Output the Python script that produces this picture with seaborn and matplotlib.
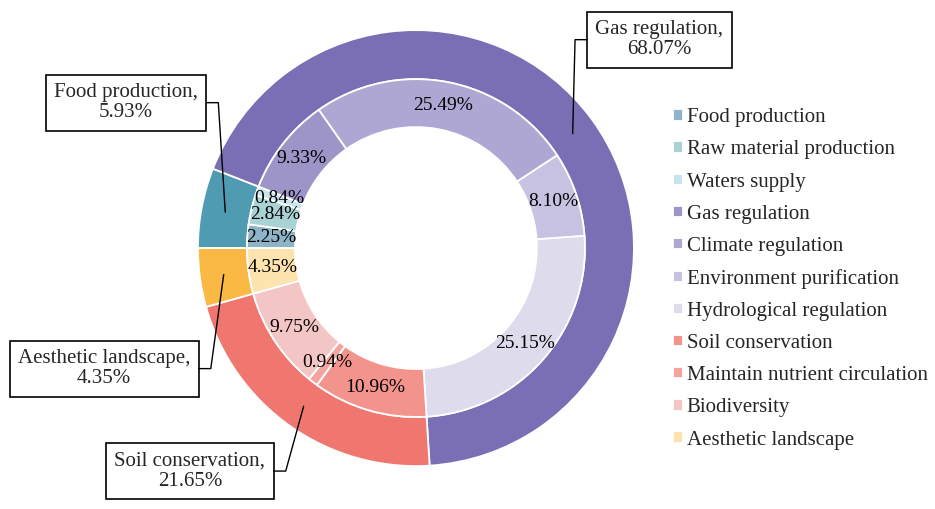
import matplotlib
matplotlib.use("Agg")
import matplotlib.pyplot as plt
import numpy as np
import seaborn as sns

sns.set_theme(style="white")
plt.rcParams["font.family"] = ["Liberation Serif", "DejaVu Serif"]

# outer ring: service groups
outer_labels = ["Food production", "Gas regulation", "Soil conservation", "Aesthetic landscape"]
outer_values = [5.93, 68.07, 21.65, 4.35]
outer_colors = ["#4F9BB2", "#7A6FB4", "#F07670", "#F9B944"]

# inner ring: individual services
inner_labels = ["Food production", "Raw material production", "Waters supply", "Gas regulation",
                "Climate regulation", "Environment purification", "Hydrological regulation",
                "Soil conservation", "Maintain nutrient circulation", "Biodiversity",
                "Aesthetic landscape"]
inner_values = [2.25, 2.84, 0.84, 9.33, 25.49, 8.10, 25.15, 10.96, 0.94, 9.75, 4.35]
inner_colors = ["#8DB4C7", "#A9D2D5", "#C9E4EE", "#9D94C8", "#AFA7D3", "#C7C2E1",
                "#DDDBEC", "#F3948C", "#F3A49E", "#F4C5C5", "#FDE3AE"]

# label boxes for outer ring (centres in data units)
box_pos = {
    "Food production": (-1.33, 0.667),
    "Gas regulation": (1.117, 0.956),
    "Soil conservation": (-1.037, -1.023),
    "Aesthetic landscape": (-1.43, -0.553),
}

FS = 15
PCT_FS = 14
fig = plt.figure(figsize=(9.35, 5.09), dpi=100)
ax = fig.add_axes([0, 0, 1, 1])

outer_w, _ = ax.pie(outer_values, radius=1.0, colors=outer_colors, startangle=180,
                    counterclock=False,
                    wedgeprops=dict(width=0.225, edgecolor="white", linewidth=1.3))
inner_w, _, autotexts = ax.pie(inner_values, radius=0.775, colors=inner_colors, startangle=180,
                               counterclock=False, autopct="%.2f%%", pctdistance=0.858,
                               textprops=dict(fontsize=PCT_FS, color="black"),
                               wedgeprops=dict(width=0.22, edgecolor="white", linewidth=1.3))

ax.set_aspect("auto")
ax.set_xlim(-1.908, 2.381)
ax.set_ylim(-1.197, 1.138)
ax.axis("off")

# outer labels with leader lines
boxes = []
cum = 0.0
for lab, val in zip(outer_labels, outer_values):
    mid = np.deg2rad(180 - 360 * (cum + val / 2) / 100)
    cum += val
    target = (0.89 * np.cos(mid), 0.89 * np.sin(mid))
    bx, by = box_pos[lab]
    t = ax.text(bx, by, f"{lab},\n{val:.2f}%", ha="center", va="center", fontsize=FS,
                linespacing=1.1,
                bbox=dict(boxstyle="square,pad=0.4", fc="white", ec="black", lw=1.2))
    boxes.append((t, target))

fig.canvas.draw()
inv = ax.transData.inverted()
for t, target in boxes:
    ext = t.get_bbox_patch().get_window_extent()
    (x0, y0), (x1, y1) = inv.transform([[ext.x0, ext.y0], [ext.x1, ext.y1]])
    yc = (y0 + y1) / 2
    if target[0] > x1:
        ex, elbow = x1, x1 + 0.055
    else:
        ex, elbow = x0, x0 - 0.055
    ax.plot([ex, elbow, target[0]], [yc, yc, target[1]], color="black", lw=1.0, zorder=3)

ax.legend(inner_w, inner_labels, loc="center left", bbox_to_anchor=(0.720, 0.452),
          bbox_transform=fig.transFigure, frameon=False, fontsize=FS,
          handlelength=0.45, handleheight=0.45, handletextpad=0.2, labelspacing=0.63,
          borderpad=0, borderaxespad=0)

fig.savefig("out.png", dpi=100)
